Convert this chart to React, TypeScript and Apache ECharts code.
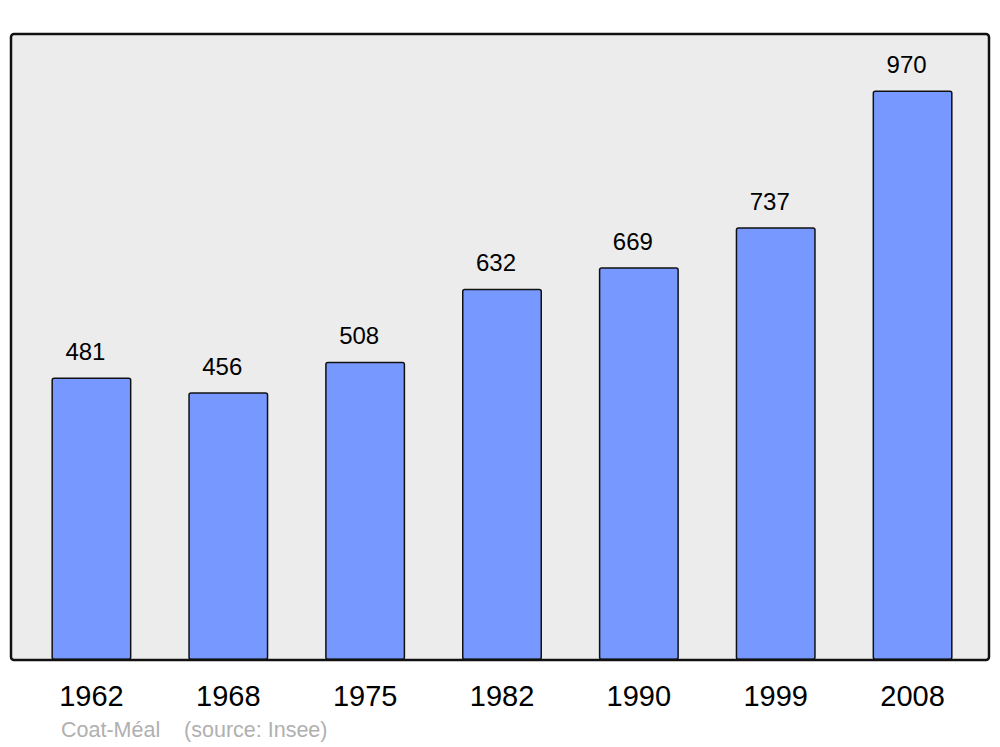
import React, { useEffect, useRef } from "react";
import * as echarts from "echarts";

const years = ["1962", "1968", "1975", "1982", "1990", "1999", "2008"];
const population = [481, 456, 508, 632, 669, 737, 970];
const sourceText = "Coat-Méal    (source: Insee)";

export default function App() {
  const ref = useRef<HTMLDivElement>(null);
  useEffect(() => {
    const chart = echarts.init(ref.current!, null, { renderer: "svg" });
    chart.setOption({
      animation: false,
      backgroundColor: "#ffffff",
      textStyle: { fontFamily: "Liberation Sans, Arial, sans-serif" },
      grid: { left: 23, right: 19, top: 34, bottom: 87, containLabel: false },
      xAxis: {
        type: "category",
        data: years,
        axisLine: { show: false },
        axisTick: { show: false },
        axisLabel: { color: "#000", fontSize: 29, margin: 21, fontFamily: "Liberation Sans, Arial, sans-serif" },
      },
      yAxis: {
        type: "value",
        min: 0,
        max: 1066,
        show: false,
        splitLine: { show: false },
      },
      graphic: [
        {
          type: "rect",
          z: -10,
          shape: { x: 11, y: 34, width: 978, height: 626, r: 3 },
          style: { fill: "#ececec", stroke: "none" },
        },
        {
          type: "rect",
          z: 100,
          shape: { x: 11, y: 34, width: 978, height: 626, r: 3 },
          style: { fill: "none", stroke: "#111111", lineWidth: 2.5 },
        },
        {
          type: "text",
          left: 61,
          top: 719,
          style: { text: sourceText, fill: "#b0b0b0", fontSize: 21.5, fontFamily: "Liberation Sans, Arial, sans-serif" },
        },
      ],
      series: [
        {
          type: "bar",
          data: population,
          barWidth: 80,
          itemStyle: { color: "#7799ff", borderColor: "#111111", borderWidth: 1.5, borderRadius: 2 },
          label: {
            show: true,
            position: "top",
            distance: 14,
            offset: [-6, 0],
            color: "#000",
            fontSize: 24,
            fontFamily: "Liberation Sans, Arial, sans-serif",
          },
        },
      ],
    });
    return () => chart.dispose();
  }, []);
  return <div ref={ref} style={{ position: "fixed", left: 0, top: 0, width: 1000, height: 747 }} />;
}
